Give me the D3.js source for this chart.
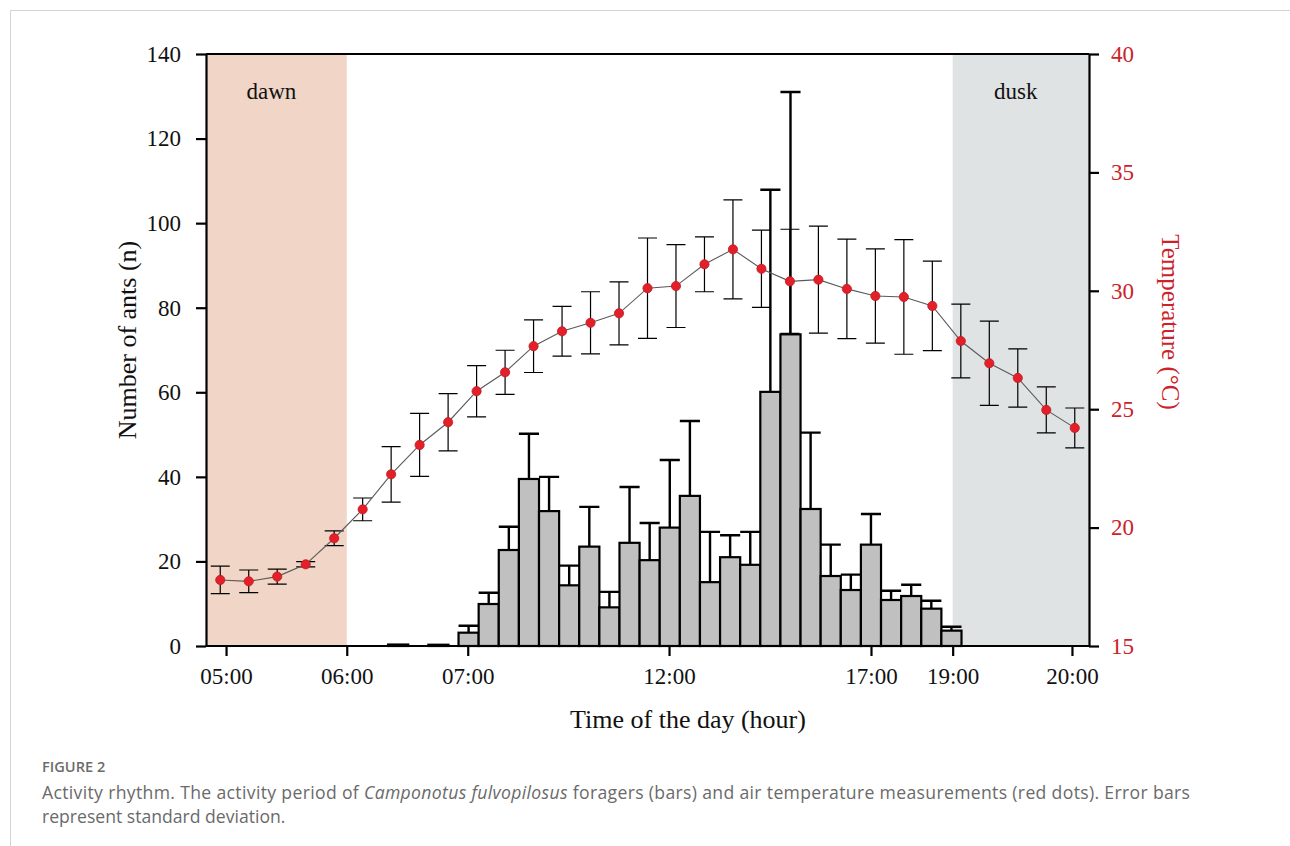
<!DOCTYPE html>
<html>
<head>
<meta charset="utf-8">
<script src="https://cdn.jsdelivr.net/npm/d3@7"></script>
<style>
  html, body { margin: 0; padding: 0; background: #fff; }
  svg { display: block; }
</style>
</head>
<body>
<svg id="chart" width="1290" height="846"></svg>
<script>
// ---------------- DATA ----------------
// Air temperature, every 30 min (05:00 - 20:00)
const tempTimes = ["05:00","05:30","06:00","06:30","07:00","07:30","08:00","08:30","09:00","09:30",
  "10:00","10:30","11:00","11:30","12:00","12:30","13:00","13:30","14:00","14:30",
  "15:00","15:30","16:00","16:30","17:00","17:30","18:00","18:30","19:00","19:30","20:00"];
const tempMean = [17.79,17.73,17.93,18.45,19.55,20.77,22.25,23.49,24.45,25.76,
  26.56,27.66,28.29,28.65,29.05,30.11,30.20,31.12,31.75,30.93,
  30.40,30.47,30.08,29.78,29.74,29.36,27.88,26.94,26.32,24.97,24.21];
const tempSD = [0.58,0.48,0.32,0.11,0.31,0.48,1.17,1.33,1.21,1.08,
  0.93,1.11,1.05,1.31,1.33,2.12,1.75,1.16,2.09,1.63,
  2.20,2.26,2.10,1.99,2.42,1.89,1.56,1.78,1.23,0.97,0.84];

// Number of foraging ants (bars)
const barTimes = ["05:15","06:15","07:00","07:30","08:00","08:30","09:00","09:30","10:00","10:30",
  "11:00","11:30","12:00","12:30","13:00","13:30","14:00","14:30","15:00","15:30",
  "16:00","16:30","17:00","17:30","18:00","18:30","19:00"];
const barMean = [0.35,0.3,3.15,9.93,22.7,39.5,31.9,14.35,23.5,9.14,
  24.4,20.3,28.0,35.5,15.1,21.0,19.2,60.1,73.7,32.4,
  16.55,13.24,23.97,10.88,11.82,8.83,3.63];
const barSD = [0.25,0.1,1.65,2.67,5.5,10.7,8.1,4.65,9.4,3.66,
  13.2,8.8,16.0,17.7,11.9,5.2,7.8,47.8,57.3,18.05,
  7.42,3.63,7.23,2.2,2.68,1.87,0.94];

// Axes
const xTickLabels = ["05:00","06:00","07:00","12:00","17:00","19:00","20:00"];
const xTickFrac   = [0.0227,0.1594,0.2964,0.5244,0.7531,0.8456,0.9807];
const leftTicks  = [0,20,40,60,80,100,120,140];
const rightTicks = [15,20,25,30,35,40];

// ---------------- LAYOUT ----------------
const W = 1290, H = 846;
const P = {l: 206, r: 1089, t: 54, b: 646};
const PW = P.r - P.l;
const serif = "'Liberation Serif','Times New Roman',serif";
const red = "#cc2229";

const svg = d3.select("#chart");
svg.append("rect").attr("width", W).attr("height", H).attr("fill", "#fff");

// page frame
svg.append("line").attr("x1", 10).attr("x2", W).attr("y1", 10.5).attr("y2", 10.5)
  .attr("stroke", "#d4d4d4").attr("stroke-width", 1);
svg.append("line").attr("x1", 10.5).attr("x2", 10.5).attr("y1", 10).attr("y2", H)
  .attr("stroke", "#d4d4d4").attr("stroke-width", 1);

// ---------------- SCALES ----------------
const yL = d3.scaleLinear().domain([0, 140]).range([P.b, P.t]);
const yR = d3.scaleLinear().domain([15, 40]).range([P.b, P.t]);
const xT = d3.scalePoint().domain(tempTimes).range([P.l, P.r]).padding(0.5);
const toMin = s => { const [h, m] = s.split(":").map(Number); return h * 60 + m; };
const xB = d3.scaleLinear().domain([toMin("07:00"), toMin("19:30")])
  .range([P.l + 0.2860 * PW, P.l + 0.8556 * PW]);
const xAx = d3.scaleOrdinal().domain(xTickLabels).range(xTickFrac.map(f => P.l + f * PW));

// ---------------- SHADING ----------------
svg.append("rect").attr("x", P.l).attr("y", P.t)
  .attr("width", xAx("06:00") - P.l).attr("height", P.b - P.t).attr("fill", "#f1d5c6");
svg.append("rect").attr("x", xAx("19:00")).attr("y", P.t)
  .attr("width", P.r - xAx("19:00")).attr("height", P.b - P.t).attr("fill", "#dfe3e4");

svg.append("text").attr("x", (P.l + xAx("06:00")) / 2 - 5).attr("y", 99)
  .attr("text-anchor", "middle").attr("font-family", serif).attr("font-size", 23)
  .attr("fill", "#111").text("dawn");
svg.append("text").attr("x", (xAx("19:00") + P.r) / 2 - 5).attr("y", 99)
  .attr("text-anchor", "middle").attr("font-family", serif).attr("font-size", 23)
  .attr("fill", "#111").text("dusk");

// ---------------- BARS ----------------
const bars = barTimes.map((t, i) => ({t: toMin(t), v: barMean[i], sd: barSD[i]}));
const bw = b => xB(b.t + 30) - xB(b.t);
const gb = svg.append("g");
gb.selectAll("rect").data(bars).join("rect")
  .attr("x", d => xB(d.t)).attr("width", d => bw(d))
  .attr("y", d => yL(d.v)).attr("height", d => yL(0) - yL(d.v))
  .attr("fill", "#c0c0c0").attr("stroke", "#000").attr("stroke-width", 2.2);
const ge = svg.append("g").attr("stroke", "#000").attr("stroke-width", 2.4).attr("fill", "none");
ge.selectAll("path").data(bars.filter(d => d.v > 1)).join("path")
  .attr("d", d => {
    const cx = xB(d.t + 15), x0 = xB(d.t), x1 = xB(d.t + 30);
    const y0 = yL(d.v), y1 = yL(d.v + d.sd);
    return `M${cx},${y0}V${y1}M${x0},${y1}H${x1}`;
  });

// ---------------- AXES ----------------
const axStroke = 2.2;
const gl = svg.append("g").attr("transform", `translate(${P.l},0)`)
  .call(d3.axisLeft(yL).tickValues(leftTicks).tickSize(10).tickPadding(15).tickSizeOuter(0));
const gr = svg.append("g").attr("transform", `translate(${P.r},0)`)
  .call(d3.axisRight(yR).tickValues(rightTicks).tickSize(10).tickPadding(12).tickSizeOuter(0));
const gx = svg.append("g").attr("transform", `translate(0,${P.b})`)
  .call(d3.axisBottom(xAx).tickSize(10).tickPadding(12).tickSizeOuter(0));
[gl, gr, gx].forEach(g => {
  g.selectAll("path.domain").attr("stroke", "#000").attr("stroke-width", axStroke);
  g.selectAll(".tick line").attr("stroke", "#000").attr("stroke-width", axStroke);
  g.selectAll(".tick text").attr("font-family", serif).attr("font-size", 23).attr("fill", "#111");
});
gr.selectAll(".tick text").attr("fill", red);
gx.select("path.domain").attr("d", `M${P.l},0H${P.r}`);
// top border
svg.append("line").attr("x1", P.l).attr("x2", P.r).attr("y1", P.t).attr("y2", P.t)
  .attr("stroke", "#000").attr("stroke-width", axStroke);

// ---------------- TEMPERATURE ----------------
const temps = tempTimes.map((t, i) => ({t, v: tempMean[i], sd: tempSD[i]}));
const gt = svg.append("g").attr("stroke", "#000").attr("stroke-width", 1.2).attr("fill", "none");
gt.selectAll("path").data(temps).join("path")
  .attr("d", d => {
    const cx = xT(d.t), yh = yR(d.v + d.sd), yl = yR(d.v - d.sd);
    return `M${cx},${yh}V${yl}M${cx - 9.5},${yh}H${cx + 9.5}M${cx - 9.5},${yl}H${cx + 9.5}`;
  });
svg.append("path").datum(temps)
  .attr("d", d3.line().x(d => xT(d.t)).y(d => yR(d.v)))
  .attr("fill", "none").attr("stroke", "#5a5a5a").attr("stroke-width", 1.1);
svg.append("g").selectAll("circle").data(temps).join("circle")
  .attr("cx", d => xT(d.t)).attr("cy", d => yR(d.v)).attr("r", 4.6)
  .attr("fill", "#e3202a").attr("stroke", "#c01a22").attr("stroke-width", 0.8);

// ---------------- TITLES ----------------
svg.append("text").attr("transform", `translate(127,${(P.t + P.b) / 2 - 10}) rotate(-90)`)
  .attr("text-anchor", "middle").attr("dominant-baseline", "central")
  .attr("font-family", serif).attr("font-size", 26).attr("fill", "#111")
  .text("Number of ants (n)");
svg.append("text").attr("transform", `translate(1170,${(P.t + P.b) / 2 - 28}) rotate(90)`)
  .attr("text-anchor", "middle").attr("dominant-baseline", "central")
  .attr("font-family", serif).attr("font-size", 25).attr("fill", red)
  .text("Temperature (°C)");
svg.append("text").attr("x", 688).attr("y", 728)
  .attr("text-anchor", "middle").attr("font-family", serif).attr("font-size", 26).attr("fill", "#111")
  .text("Time of the day (hour)");

// ---------------- CAPTION ----------------
const sans = "'Open Sans','Lato',sans-serif";
svg.append("text").attr("x", 42).attr("y", 772).attr("font-family", sans)
  .attr("font-size", 14.6).attr("font-weight", 600).attr("fill", "#6b6b6b").text("FIGURE 2");
const cap1 = svg.append("text").attr("x", 42).attr("y", 799).attr("font-family", sans)
  .attr("font-size", 17.6).attr("fill", "#6a6a6a")
  .attr("textLength", 1148).attr("lengthAdjust", "spacing");
cap1.append("tspan").text("Activity rhythm. The activity period of ");
cap1.append("tspan").attr("font-style", "italic").text("Camponotus fulvopilosus");
cap1.append("tspan").text(" foragers (bars) and air temperature measurements (red dots). Error bars");
svg.append("text").attr("x", 42).attr("y", 823).attr("font-family", sans)
  .attr("font-size", 17.6).attr("fill", "#6a6a6a").text("represent standard deviation.");
</script>
</body>
</html>
